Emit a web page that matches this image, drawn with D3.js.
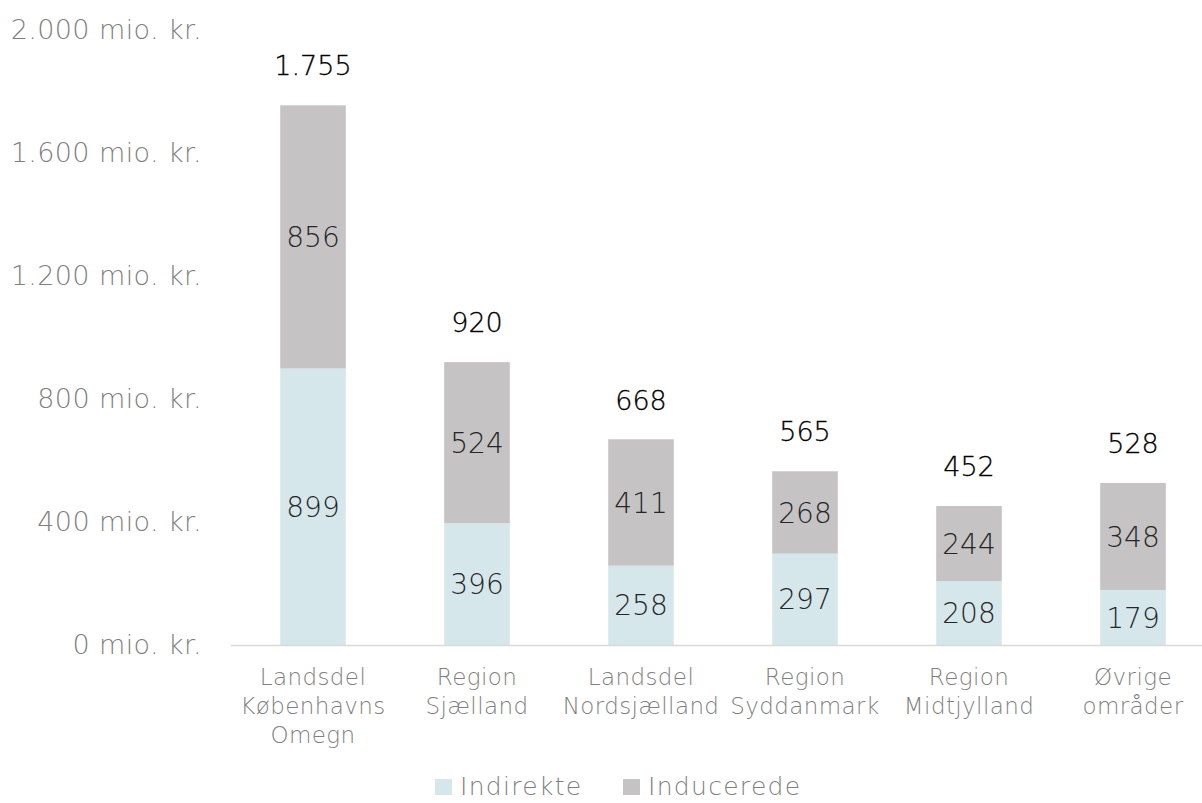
<!DOCTYPE html>
<html>
<head>
<meta charset="utf-8">
<script src="https://cdn.jsdelivr.net/npm/d3@7"></script>
<style>
html,body{margin:0;padding:0;background:#fff;}
svg{display:block;font-family:"DejaVu Sans",sans-serif;font-weight:200;}
</style>
</head>
<body>
<svg id="chart" width="1202" height="803"></svg>
<script>
const categories = [
  ["Landsdel", "Københavns", "Omegn"],
  ["Region", "Sjælland"],
  ["Landsdel", "Nordsjælland"],
  ["Region", "Syddanmark"],
  ["Region", "Midtjylland"],
  ["Øvrige", "områder"]
];
const indirekte = [899, 396, 258, 297, 208, 179];
const inducerede = [856, 524, 411, 268, 244, 348];
const totals = [1755, 920, 668, 565, 452, 528];
const yTicks = [0, 400, 800, 1200, 1600, 2000];
const seriesNames = ["Indirekte", "Inducerede"];
const seriesColors = ["#d6e7eb", "#c5c3c4"];

const svg = d3.select("#chart");
const keys = categories.map(c => c.join(" "));
const x = d3.scaleBand().domain(keys).range([231, 1215]).paddingInner(0.6).paddingOuter(0.3);
const y = d3.scaleLinear().domain([0, 2000]).range([645, 30]);
const fmt = v => d3.format(",")(v).replace(/,/g, ".");

// y tick labels
svg.append("g").selectAll("text").data(yTicks).join("text")
  .attr("x", 202).attr("y", d => y(d)).attr("dy", "0.35em")
  .attr("text-anchor", "end").attr("font-size", 27).attr("letter-spacing", 0.4)
  .attr("fill", "#7f7f7f")
  .text(d => fmt(d) + " mio. kr.");

// stacked data
const rows = keys.map((k, i) => ({key: k, Indirekte: indirekte[i], Inducerede: inducerede[i]}));
const stack = d3.stack().keys(seriesNames)(rows);

const layers = svg.append("g").selectAll("g").data(stack).join("g")
  .attr("fill", (d, i) => seriesColors[i]);
layers.selectAll("rect").data(d => d).join("rect")
  .attr("x", d => x(d.data.key)).attr("width", x.bandwidth())
  .attr("y", d => y(d[1])).attr("height", d => y(d[0]) - y(d[1]));

// segment labels
stack.forEach(layer => {
  svg.append("g").selectAll("text").data(layer).join("text")
    .attr("x", d => x(d.data.key) + x.bandwidth() / 2)
    .attr("y", d => (y(d[0]) + y(d[1])) / 2).attr("dy", "0.36em")
    .attr("text-anchor", "middle").attr("font-size", 28).attr("fill", "#262626")
    .text(d => fmt(d.data[layer.key]));
});

// totals
svg.append("g").selectAll("text").data(keys).join("text")
  .attr("x", d => x(d) + x.bandwidth() / 2)
  .attr("y", (d, i) => y(totals[i]) - 30)
  .attr("text-anchor", "middle").attr("font-size", 27)
  .attr("fill", "#000").attr("stroke", "#000").attr("stroke-width", 0.3)
  .text((d, i) => fmt(totals[i]));

// axis line
svg.append("line").attr("x1", 231).attr("x2", 1202).attr("y1", y(0) + 0.5).attr("y2", y(0) + 0.5)
  .attr("stroke", "#d9d9d9").attr("stroke-width", 1.5);

// category labels
const cat = svg.append("g").selectAll("text").data(categories).join("text")
  .attr("x", (d, i) => x(keys[i]) + x.bandwidth() / 2)
  .attr("y", 685).attr("text-anchor", "middle").attr("font-size", 23)
  .attr("letter-spacing", 0.4).attr("fill", "#7f7f7f");
cat.selectAll("tspan").data(d => d).join("tspan")
  .attr("x", function() { return this.parentNode.getAttribute("x"); })
  .attr("dy", (d, i) => i === 0 ? 0 : 29).text(d => d);

// legend
const legendX = [435, 623];
const lg = svg.append("g").selectAll("g").data(seriesNames).join("g")
  .attr("transform", (d, i) => `translate(${legendX[i]},795)`);
lg.append("rect").attr("x", 0).attr("y", -16).attr("width", 17).attr("height", 16)
  .attr("fill", (d, i) => seriesColors[i]);
lg.append("text").attr("x", 25).attr("y", 0)
  .attr("font-size", 25).attr("letter-spacing", 1.3).attr("fill", "#7f7f7f").text(d => d);
</script>
</body>
</html>
